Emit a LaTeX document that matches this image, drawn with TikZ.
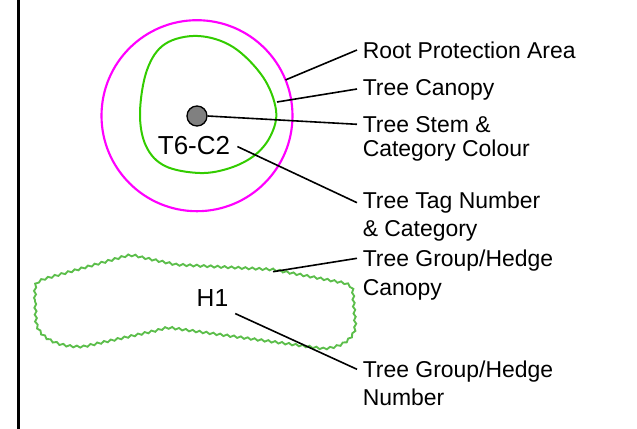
\documentclass[tikz,border=0pt]{standalone}
\usepackage{fontspec}
\setmainfont{Liberation Sans}
\usetikzlibrary{decorations.pathmorphing,calc}
\definecolor{rpacol}{RGB}{255,0,255}
\definecolor{canopycol}{RGB}{51,204,0}
\definecolor{hedgecol}{RGB}{92,190,75}
\definecolor{stemfill}{RGB}{128,128,128}
\begin{document}
\begin{tikzpicture}[x=0.75pt,y=-0.75pt,
  lbl/.style={anchor=north west, inner sep=0pt, align=left, font=\fontsize{17.2}{18.2}\selectfont},
  bigtxt/.style={anchor=base, inner sep=0pt, font=\fontsize{19.5}{22}\selectfont},
  leader/.style={draw=black, line width=1.2pt},
  hedgeline/.style={draw=hedgecol, line width=1.4pt, decorate,
    decoration={snake, amplitude=0.75pt, segment length=5.2pt}}]
\useasboundingbox (0,0) rectangle (637,429);
% left border line
\coordinate (bt) at (18.5,0);
\coordinate (bb) at (18.5,429);
\draw[line width=1.9pt] (bt) -- (bb);

% root protection area
\node[circle, draw=rpacol, line width=1.6pt, minimum size=143.25pt, inner sep=0pt, outer sep=0pt] (rpa) at (197,115.7) {};
% canopy
\draw[canopycol, line width=1.5pt] plot[smooth cycle, tension=0.6] coordinates
  {(198,36) (233,47) (263,77) (276,110) (271,135) (255,155) (230,168) (200,173) (165,166) (146,146) (140,113) (147,70) (165,44)};
\coordinate (canopyPt) at (277,102);
% stem
\node[circle, draw=black, fill=stemfill, line width=1pt, minimum size=15pt, inner sep=0pt] (stem) at (197,116) {};
% tag
\node[bigtxt] (tag) at (194,154) {T6-C2};

% hedge
\begin{scope}[y=0.75pt]
\draw[hedgeline] (35,-300) -- (35,-292) .. controls (35,-284) and (38,-283) .. (46,-280)
  -- (124,-258) .. controls (131,-256) and (135,-257) .. (142,-259)
  -- (175,-266) -- (273,-271) -- (342,-284) .. controls (352,-286) and (353,-290) .. (353,-298)
  -- (355,-325) .. controls (356,-337) and (345,-349) .. (322,-350)
  -- (175,-330) .. controls (170,-329) and (166,-329) .. (160,-331)
  -- (83,-348) .. controls (60,-349) and (36,-340) .. (36,-320) -- cycle;
\end{scope}
\coordinate (hedgePt) at (273,271.7);
\node[bigtxt, font=\fontsize{18.5}{22}\selectfont] (h1) at (212.5,306.7) {H1};

% labels
\node[lbl] (lRPA) at (362.5,41.7) {Root Protection Area};
\node[lbl] (lCan) at (362.5,79.3) {Tree Canopy};
\node[lbl] (lStem) at (362.5,116) {Tree Stem \&\\Category Colour};
\node[lbl] (lTag) at (362.5,191.7) {Tree Tag Number\\[3pt]\& Category};
\node[lbl] (lGrp) at (362.5,250) {Tree Group/Hedge\\[3pt]Canopy};
\node[lbl] (lNum) at (362.5,360.7) {Tree Group/Hedge\\[3pt]Number};

% leaders
\draw[leader] (rpa.22.4) -- ($(lRPA.north west)+(-5.5,8.3)$);
\draw[leader] (canopyPt) -- ($(lCan.north west)+(-5.5,9.7)$);
\draw[leader] (stem.east) -- ($(lStem.north west)+(-5.5,8.3)$);
\draw[leader] ($(tag.east)+(7,1.5)$) -- ($(lTag.north west)+(-5.5,11)$);
\draw[leader] (hedgePt) -- ($(lGrp.north west)+(-5.5,8.3)$);
\draw[leader] ($(h1.south east)+(6.7,6.6)$) -- ($(lNum.north west)+(-5.5,8.6)$);
\end{tikzpicture}
\end{document}
